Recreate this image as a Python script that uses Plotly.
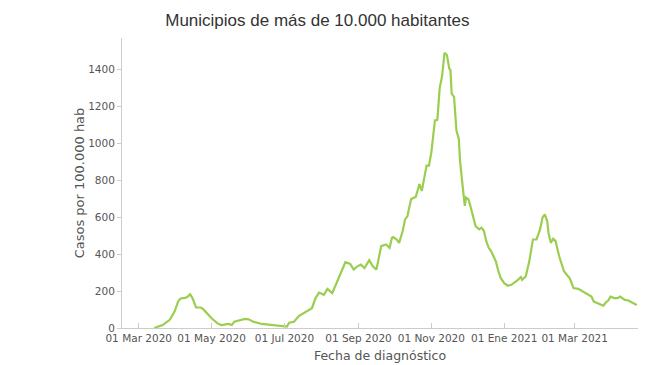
import plotly.graph_objects as go

dates = [
    "2020-03-14", "2020-03-16", "2020-03-21", "2020-03-27", "2020-03-31", "2020-04-03", "2020-04-05",
    "2020-04-09", "2020-04-11", "2020-04-13", "2020-04-15", "2020-04-18", "2020-04-22", "2020-04-24",
    "2020-04-27", "2020-05-01", "2020-05-06", "2020-05-09", "2020-05-15", "2020-05-18", "2020-05-20",
    "2020-05-25", "2020-05-29", "2020-06-01", "2020-06-05", "2020-06-12", "2020-06-19", "2020-06-27",
    "2020-07-01", "2020-07-03", "2020-07-05", "2020-07-09", "2020-07-13", "2020-07-18", "2020-07-24",
    "2020-07-27", "2020-07-30", "2020-08-03", "2020-08-06", "2020-08-10", "2020-08-13", "2020-08-18",
    "2020-08-21", "2020-08-25", "2020-08-28", "2020-08-31", "2020-09-03", "2020-09-06", "2020-09-10",
    "2020-09-13", "2020-09-16", "2020-09-20", "2020-09-24", "2020-09-27", "2020-09-29", "2020-09-30",
    "2020-10-03", "2020-10-05", "2020-10-08", "2020-10-10", "2020-10-12", "2020-10-15", "2020-10-19",
    "2020-10-22", "2020-10-24", "2020-10-28", "2020-10-30", "2020-11-01", "2020-11-04", "2020-11-06",
    "2020-11-08", "2020-11-10", "2020-11-12", "2020-11-14", "2020-11-16", "2020-11-17", "2020-11-18",
    "2020-11-20", "2020-11-22", "2020-11-24", "2020-11-25", "2020-11-27", "2020-11-28", "2020-11-29",
    "2020-11-30", "2020-12-02", "2020-12-04", "2020-12-06", "2020-12-08", "2020-12-11", "2020-12-13",
    "2020-12-15", "2020-12-17", "2020-12-19", "2020-12-21", "2020-12-23", "2020-12-24", "2020-12-25",
    "2020-12-27", "2020-12-29", "2021-01-01", "2021-01-04", "2021-01-07", "2021-01-09", "2021-01-12",
    "2021-01-15", "2021-01-16", "2021-01-19", "2021-01-22", "2021-01-25", "2021-01-28", "2021-01-31",
    "2021-02-02", "2021-02-04", "2021-02-06", "2021-02-07", "2021-02-09", "2021-02-11", "2021-02-13",
    "2021-02-16", "2021-02-20", "2021-02-25", "2021-02-28", "2021-03-04", "2021-03-08", "2021-03-12",
    "2021-03-15", "2021-03-17", "2021-03-22", "2021-03-25", "2021-03-27", "2021-03-29", "2021-03-31",
    "2021-04-03", "2021-04-06", "2021-04-08", "2021-04-12", "2021-04-15", "2021-04-18", "2021-04-22",
]

casos = [
    0, 4, 16, 44, 89, 143, 160,
    163, 170, 183, 162, 111, 111, 102,
    80, 53, 25, 16, 22, 16, 34,
    44, 49, 47, 34, 22, 16, 11,
    7, 8, 29, 34, 65, 84, 107,
    162, 192, 180, 211, 189, 234, 307,
    356, 347, 316, 334, 343, 325, 367,
    334, 316, 443, 452, 434, 489, 492,
    479, 461, 525, 588, 606, 697, 710,
    779, 742, 879, 879, 951, 1124, 1127,
    1300, 1365, 1490, 1478, 1405, 1396, 1269,
    1251, 1069, 1024, 906, 779, 706, 661,
    706, 697, 652, 597, 552, 534, 543,
    525, 470, 434, 416, 388, 375, 361,
    310, 271, 243, 229, 234, 243, 258,
    276, 261, 279, 361, 479, 479, 534,
    597, 615, 579, 516, 461, 483, 470,
    388, 307, 268, 216, 212, 198, 180,
    170, 143, 131, 121, 138, 149, 170,
    162, 162, 170, 152, 149, 138, 125,
]

tick_dates = ["2020-03-01", "2020-05-01", "2020-07-01", "2020-09-01", "2020-11-01", "2021-01-01", "2021-03-01"]
tick_labels = ["01 Mar 2020", "01 May 2020", "01 Jul 2020", "01 Sep 2020", "01 Nov 2020", "01 Ene 2021", "01 Mar 2021"]
y_ticks = [0, 200, 400, 600, 800, 1000, 1200, 1400]

fig = go.Figure()
fig.add_trace(go.Scatter(
    x=dates, y=casos, mode="lines",
    line=dict(color="#9BCD4F", width=2.2),
    showlegend=False,
))

axis_font = dict(family="DejaVu Sans, Verdana, sans-serif", size=10.5, color="#555555")
fig.update_layout(
    width=650, height=365,
    margin=dict(l=114, r=20, t=30, b=45, autoexpand=False),
    paper_bgcolor="white", plot_bgcolor="white",
    title=dict(text="Municipios de más de 10.000 habitantes",
               font=dict(family="Liberation Sans, Arial, sans-serif", size=17, color="#333333"),
               x=0.476, xanchor="center", y=0.967, yanchor="middle", yref="container"),
    xaxis=dict(
        range=["2020-02-16", "2021-04-23"],
        tickvals=tick_dates, ticktext=tick_labels,
        tickangle=0, automargin=False,
        showgrid=False, zeroline=False,
        showline=True, linecolor="#cccccc", linewidth=1,
        ticks="inside", ticklen=5, tickcolor="#cccccc",
        tickfont=axis_font,
        title=dict(text="Fecha de diagnóstico",
                   font=dict(family="DejaVu Sans, Verdana, sans-serif", size=12.5, color="#555555"),
                   standoff=8),
    ),
    yaxis=dict(
        range=[0, 1570],
        tickvals=y_ticks,
        automargin=False,
        showgrid=False, zeroline=False,
        showline=True, linecolor="#cccccc", linewidth=1,
        ticks="outside", ticklen=4, tickcolor="#cccccc",
        tickfont=axis_font,
        title=dict(text="Casos por 100.000 hab",
                   font=dict(family="DejaVu Sans, Verdana, sans-serif", size=13, color="#555555"),
                   standoff=0),
    ),
)

fig.write_html("out.html")
